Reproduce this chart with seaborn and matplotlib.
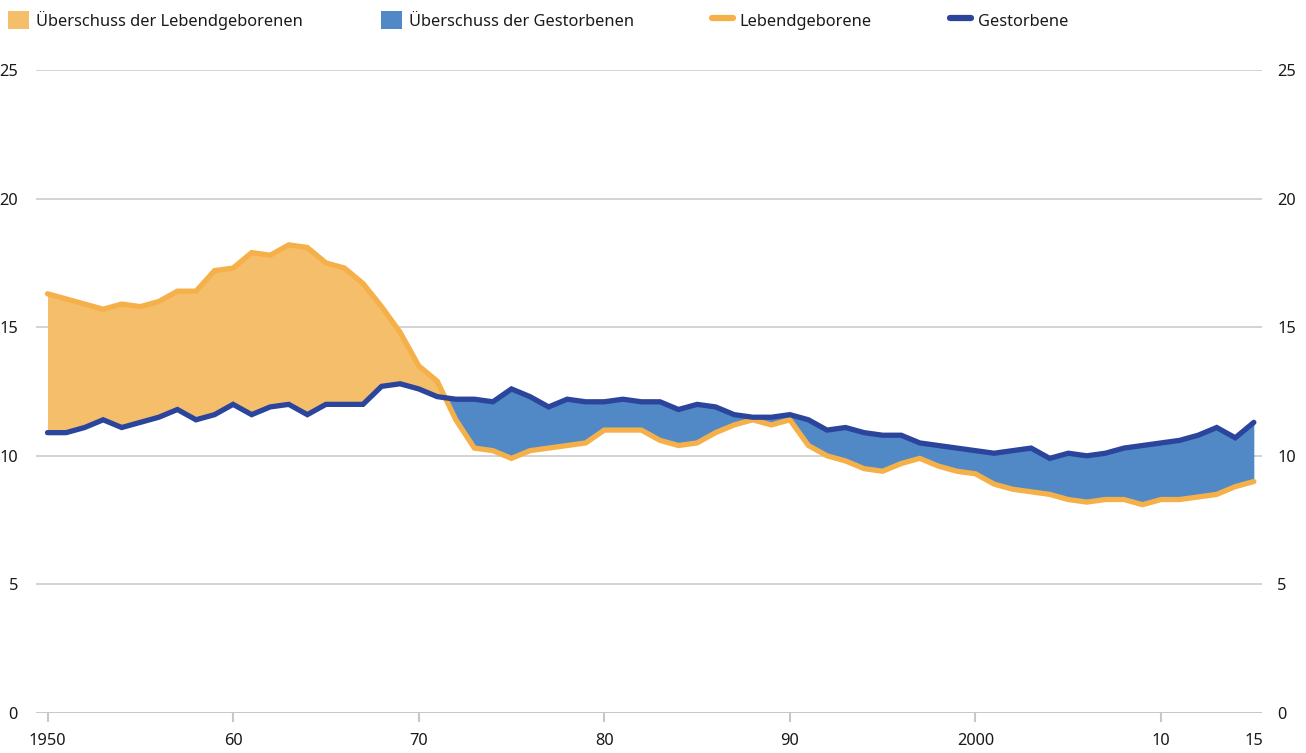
import numpy as np
import pandas as pd
import matplotlib
matplotlib.use('Agg')
import matplotlib.pyplot as plt
import seaborn as sns
from matplotlib.patches import Patch
from matplotlib.lines import Line2D

# ── Daten (je 1000 Einwohner) ─────────────────────────────────
years = list(range(1950, 2016))
births = [16.3, 16.1, 15.9, 15.7, 15.9, 15.8, 16.0, 16.4, 16.4, 17.2,
          17.3, 17.9, 17.8, 18.2, 18.1, 17.5, 17.3, 16.7, 15.8, 14.8,
          13.5, 12.9, 11.4, 10.3, 10.2, 9.9, 10.2, 10.3, 10.4, 10.5,
          11.0, 11.0, 11.0, 10.6, 10.4, 10.5, 10.9, 11.2, 11.4, 11.2,
          11.4, 10.4, 10.0, 9.8, 9.5, 9.4, 9.7, 9.9, 9.6, 9.4,
          9.3, 8.9, 8.7, 8.6, 8.5, 8.3, 8.2, 8.3, 8.3, 8.1,
          8.3, 8.3, 8.4, 8.5, 8.8, 9.0]
deaths = [10.9, 10.9, 11.1, 11.4, 11.1, 11.3, 11.5, 11.8, 11.4, 11.6,
          12.0, 11.6, 11.9, 12.0, 11.6, 12.0, 12.0, 12.0, 12.7, 12.8,
          12.6, 12.3, 12.2, 12.2, 12.1, 12.6, 12.3, 11.9, 12.2, 12.1,
          12.1, 12.2, 12.1, 12.1, 11.8, 12.0, 11.9, 11.6, 11.5, 11.5,
          11.6, 11.4, 11.0, 11.1, 10.9, 10.8, 10.8, 10.5, 10.4, 10.3,
          10.2, 10.1, 10.2, 10.3, 9.9, 10.1, 10.0, 10.1, 10.3, 10.4,
          10.5, 10.6, 10.8, 11.1, 10.7, 11.3]

x_ticks = [1950, 1960, 1970, 1980, 1990, 2000, 2010, 2015]
x_labels = ['1950', '60', '70', '80', '90', '2000', '10', '15']
y_ticks = [0, 5, 10, 15, 20, 25]

df = pd.DataFrame({'Jahr': years, 'Lebendgeborene': births, 'Gestorbene': deaths})

C_FILL_OR = '#F5BE6B'
C_LINE_OR = '#F6B049'
C_FILL_BL = '#5089C6'
C_LINE_BL = '#2B449C'
C_GRID = '#C8C8C8'
C_TEXT = '#1a1a1a'
FS = 11.8

sns.set_theme(style='white')
plt.rcParams['font.family'] = ['Noto Sans', 'DejaVu Sans']

fig = plt.figure(figsize=(13.06, 7.53), dpi=100)
ax = fig.add_axes([36 / 1306, 40 / 753, (1262 - 36) / 1306, (713 - 70) / 753])

b = df['Lebendgeborene'].values
d = df['Gestorbene'].values
ax.fill_between(df['Jahr'], b, d, where=b >= d, interpolate=True,
                color=C_FILL_OR, linewidth=0, zorder=2)
ax.fill_between(df['Jahr'], b, d, where=b <= d, interpolate=True,
                color=C_FILL_BL, linewidth=0, zorder=2)

sns.lineplot(data=df, x='Jahr', y='Lebendgeborene', color=C_LINE_OR,
             linewidth=3.8, ax=ax, zorder=3, solid_joinstyle='miter')
sns.lineplot(data=df, x='Jahr', y='Gestorbene', color=C_LINE_BL,
             linewidth=3.8, ax=ax, zorder=4, solid_joinstyle='miter')

ax.set_xlim(1949.38, 2015.44)
ax.set_ylim(0, 25)
ax.set_xlabel('')
ax.set_ylabel('')

for v in y_ticks[1:]:
    ax.axhline(v, color=C_GRID, linewidth=1.1, zorder=1)
ax.axhline(0, color=C_GRID, linewidth=2.2, zorder=1)

# rechte Achse (nur Beschriftung)
ax2 = ax.twinx()
ax2.set_ylim(0, 25)
ax2.set_yticks(y_ticks)
ax2.tick_params(axis='y', left=False, right=False, labelleft=False, labelright=True,
                pad=5, labelsize=FS, labelcolor=C_TEXT)
for s in ax2.spines.values():
    s.set_visible(False)

for s in ax.spines.values():
    s.set_visible(False)

ax.set_xticks(x_ticks)
ax.set_xticklabels(x_labels)
ax.tick_params(axis='x', bottom=True, length=6.5, width=1.5, color=C_GRID,
               pad=8, labelsize=FS, labelcolor=C_TEXT)
ax.xaxis.get_major_ticks()[-1].tick1line.set_visible(False)

ax.set_yticks(y_ticks)
ax.tick_params(axis='y', left=False, right=False, labelleft=True, labelright=False,
               pad=7, labelsize=FS, labelcolor=C_TEXT)

handles = [
    Patch(facecolor=C_FILL_OR, edgecolor='none'),
    Patch(facecolor=C_FILL_BL, edgecolor='none'),
    Line2D([0], [0], color=C_LINE_OR, linewidth=4.5),
    Line2D([0], [0], color=C_LINE_BL, linewidth=4.5),
]
labels = ['Überschuss der Lebendgeborenen', 'Überschuss der Gestorbenen',
          'Lebendgeborene', 'Gestorbene']
fig.legend(handles, labels, loc='center left', bbox_to_anchor=(8 / 1306, 1 - 20 / 753),
           ncol=4, frameon=False, fontsize=FS, borderpad=0, borderaxespad=0,
           handlelength=1.27, handleheight=1.27, handletextpad=0.44,
           columnspacing=4.75, labelcolor=C_TEXT)

fig.savefig('out.png', dpi=100)
plt.close(fig)
